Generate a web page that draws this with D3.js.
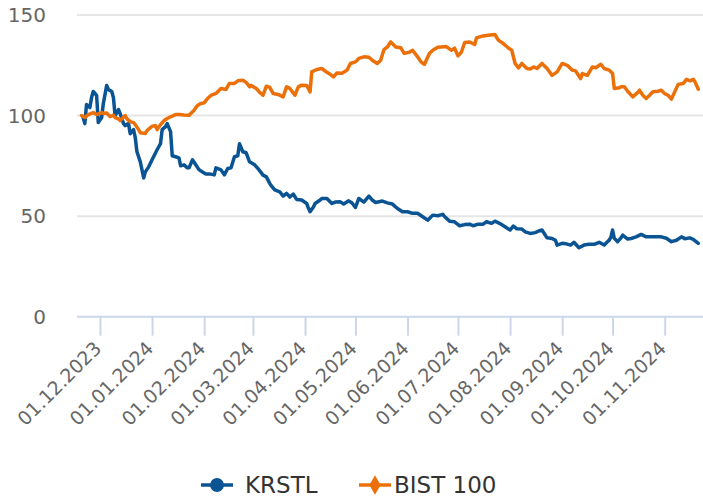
<!DOCTYPE html>
<html>
<head>
<meta charset="utf-8">
<script src="https://cdn.jsdelivr.net/npm/d3@7"></script>
<style>
body { margin: 0; background: #fff; }
svg { display: block; font-family: "DejaVu Sans", sans-serif; }
</style>
</head>
<body>
<div id="chart"></div>
<script>
// series names + colours
var seriesNames = ["KRSTL", "BIST 100"];
var seriesColors = ["#0a5494", "#ec7009"];

// KRSTL, rebased to 100
var krstlDates = ["2023-11-21","2023-11-22","2023-11-23","2023-11-25","2023-11-26","2023-11-27","2023-11-29","2023-11-30",
	"2023-12-02","2023-12-03","2023-12-05","2023-12-06","2023-12-08","2023-12-09","2023-12-10","2023-12-12","2023-12-13",
	"2023-12-15","2023-12-16","2023-12-18","2023-12-19","2023-12-21","2023-12-22","2023-12-23","2023-12-25","2023-12-27",
	"2023-12-28","2023-12-30","2024-01-01","2024-01-04","2024-01-06","2024-01-07","2024-01-09","2024-01-10","2024-01-12",
	"2024-01-13","2024-01-15","2024-01-17","2024-01-18","2024-01-20","2024-01-22","2024-01-23","2024-01-25","2024-01-27",
	"2024-01-29","2024-01-31","2024-02-02","2024-02-04","2024-02-07","2024-02-08","2024-02-11","2024-02-13","2024-02-15",
	"2024-02-17","2024-02-19","2024-02-21","2024-02-22","2024-02-24","2024-02-26","2024-02-28","2024-03-02","2024-03-04",
	"2024-03-06","2024-03-07","2024-03-09","2024-03-11","2024-03-12","2024-03-14","2024-03-17","2024-03-19","2024-03-21",
	"2024-03-23","2024-03-25","2024-03-27","2024-03-30","2024-04-02","2024-04-03","2024-04-04","2024-04-06","2024-04-07",
	"2024-04-10","2024-04-11","2024-04-14","2024-04-17","2024-04-19","2024-04-22","2024-04-24","2024-04-27","2024-04-29",
	"2024-05-01","2024-05-03","2024-05-06","2024-05-09","2024-05-11","2024-05-13","2024-05-17","2024-05-20","2024-05-23",
	"2024-05-26","2024-05-29","2024-06-01","2024-06-04","2024-06-07","2024-06-10","2024-06-13","2024-06-16","2024-06-19",
	"2024-06-22","2024-06-23","2024-06-26","2024-06-29","2024-07-02","2024-07-05","2024-07-08","2024-07-10","2024-07-13",
	"2024-07-16","2024-07-18","2024-07-21","2024-07-23","2024-07-26","2024-07-29","2024-08-01","2024-08-03","2024-08-05",
	"2024-08-08","2024-08-10","2024-08-13","2024-08-16","2024-08-18","2024-08-20","2024-08-23","2024-08-26","2024-08-28",
	"2024-08-29","2024-09-01","2024-09-03","2024-09-06","2024-09-08","2024-09-11","2024-09-14","2024-09-17","2024-09-20",
	"2024-09-23","2024-09-26","2024-09-29","2024-09-30","2024-10-01","2024-10-02","2024-10-04","2024-10-06","2024-10-07",
	"2024-10-10","2024-10-12","2024-10-15","2024-10-18","2024-10-21","2024-10-24","2024-10-27","2024-10-30","2024-11-02",
	"2024-11-05","2024-11-08","2024-11-11","2024-11-13","2024-11-16","2024-11-18","2024-11-21"];
var krstlValues = [99,96,105.5,104,109,112,110,96.5,
	99,106,115,113,112,109,100,103,101,
	96,95,96,91,93,89,82,77,69,
	72,74.5,78,83,86,93,94.5,96,92,
	80,79.5,79,75,75.5,74,74,78,75.5,
	73,72,71,71,70.5,74,73,70.5,73.7,
	74,79.5,80,86,82,81.5,77,75.5,73.7,
	71.5,70.4,69.5,66.3,65,63,62,60,61.3,
	59.5,61,58.3,58,56.3,54,52.2,54.5,56.3,
	58,58.8,58.8,56.3,57,57.1,56,57.6,56.5,
	54.3,58.8,57,60,58,56.8,57.5,56.6,56,
	53.8,52.2,52.2,51.4,51.4,49.7,48,50.5,50.2,
	50.9,49.8,47.5,47.2,45.2,45.8,46,45.2,46,
	46,47.2,46.4,47.5,46.3,44.7,43.1,45.1,43.7,
	43.6,42.2,41.4,41.8,42.6,43.1,39.2,38.9,38,
	35.6,36.5,36.3,35.6,37,34.3,35.6,36,36,
	37,35.6,38.1,39.5,43.1,39,37.3,39.2,40.6,
	38.6,38.9,39.7,40.9,39.7,39.7,39.7,39.7,39,
	37.3,38,39.7,38.8,39.2,38.5,36.5];

// BIST 100, rebased to 100
var bistDates = ["2023-11-20","2023-11-22","2023-11-24","2023-11-27","2023-11-29","2023-12-02","2023-12-03","2023-12-05",
	"2023-12-07","2023-12-09","2023-12-10","2023-12-12","2023-12-13","2023-12-16","2023-12-17","2023-12-19","2023-12-21",
	"2023-12-22","2023-12-24","2023-12-25","2023-12-28","2023-12-29","2024-01-01","2024-01-03","2024-01-04","2024-01-06",
	"2024-01-08","2024-01-10","2024-01-12","2024-01-15","2024-01-17","2024-01-20","2024-01-23","2024-01-26","2024-01-28",
	"2024-01-30","2024-02-01","2024-02-03","2024-02-05","2024-02-08","2024-02-11","2024-02-14","2024-02-16","2024-02-19",
	"2024-02-21","2024-02-24","2024-02-26","2024-02-28","2024-02-29","2024-03-03","2024-03-05","2024-03-07","2024-03-09",
	"2024-03-11","2024-03-13","2024-03-16","2024-03-19","2024-03-21","2024-03-23","2024-03-26","2024-03-28","2024-03-30",
	"2024-04-02","2024-04-04","2024-04-05","2024-04-08","2024-04-11","2024-04-14","2024-04-16","2024-04-18","2024-04-20",
	"2024-04-23","2024-04-26","2024-04-28","2024-05-01","2024-05-03","2024-05-06","2024-05-09","2024-05-11","2024-05-14",
	"2024-05-16","2024-05-18","2024-05-20","2024-05-22","2024-05-25","2024-05-28","2024-05-30","2024-06-02","2024-06-04",
	"2024-06-07","2024-06-09","2024-06-11","2024-06-14","2024-06-16","2024-06-19","2024-06-21","2024-06-24","2024-06-27",
	"2024-06-29","2024-07-01","2024-07-03","2024-07-05","2024-07-08","2024-07-11","2024-07-12","2024-07-15","2024-07-19",
	"2024-07-23","2024-07-25","2024-07-28","2024-07-31","2024-08-02","2024-08-04","2024-08-06","2024-08-08","2024-08-11",
	"2024-08-13","2024-08-15","2024-08-17","2024-08-20","2024-08-23","2024-08-26","2024-08-29","2024-09-01","2024-09-04",
	"2024-09-07","2024-09-09","2024-09-12","2024-09-13","2024-09-16","2024-09-19","2024-09-21","2024-09-24","2024-09-26",
	"2024-09-29","2024-10-01","2024-10-02","2024-10-05","2024-10-06","2024-10-08","2024-10-10","2024-10-13","2024-10-16",
	"2024-10-17","2024-10-19","2024-10-21","2024-10-23","2024-10-25","2024-10-28","2024-10-30","2024-11-01","2024-11-03",
	"2024-11-05","2024-11-07","2024-11-09","2024-11-12","2024-11-14","2024-11-16","2024-11-18","2024-11-19","2024-11-21"];
var bistValues = [100,99,100.5,101.5,100.5,101.5,101,101.3,
	99.5,100.2,99,98.3,97.5,100,98.5,97,96.5,
	95.5,93,91.5,91.1,92.5,94.7,95,93,95.5,
	97.4,98.5,99.4,100.5,100.5,100.3,100.2,102.7,105,
	106,106.3,108.5,110,111,113.5,113,116,116,
	117.3,117.6,116.5,114.3,115,113.5,111.5,110.1,114.6,
	114,111,110.5,109.3,114.3,113.5,110.1,114.3,115.1,
	115,111.8,121.7,122.9,123.4,121.5,120.5,119.2,121.2,
	121,122.6,125.9,126.7,128.4,129.2,129,127.5,125.9,
	127.5,132.8,134.1,136.6,134.1,133.7,130.9,131.5,132.5,
	129.2,126.7,125.4,130.9,132.5,134,134.1,134.3,132.5,
	133.5,129.7,131.5,136.3,136.6,135.3,138.6,139.4,139.9,
	140.3,137.5,135.8,133.6,132.5,125.9,123.7,125.9,123.4,
	123.2,124.2,123.4,125.9,123.4,120,121.7,125.9,125,
	122.6,122.2,118.4,120.9,120,124.2,123.8,125.5,123.4,
	122.6,120.9,113.5,113.8,114.3,114.3,112.1,109.3,111.5,
	112.6,110.1,108.5,110.1,111.8,112.1,112.6,110.9,110.1,
	108.2,111.8,115.5,115.9,118,117.3,118,116.8,113.1];

var yTicks = [0, 50, 100, 150];
var xTickDates = ["2023-12-01","2024-01-01","2024-02-01","2024-03-01","2024-04-01","2024-05-01",
	"2024-06-01","2024-07-01","2024-08-01","2024-09-01","2024-10-01","2024-11-01"];

var width = 703, height = 499;
var parse = d3.utcParse("%Y-%m-%d");
var fmt = d3.utcFormat("%d.%m.%Y");

var series = [
	{ name: seriesNames[0], color: seriesColors[0], values: krstlDates.map(function(d, i) { return { date: parse(d), value: krstlValues[i] }; }) },
	{ name: seriesNames[1], color: seriesColors[1], values: bistDates.map(function(d, i) { return { date: parse(d), value: bistValues[i] }; }) }
];

var x = d3.scaleUtc()
	.domain([new Date(Date.UTC(2023, 10, 17, 8)), new Date(Date.UTC(2024, 10, 23, 19))])
	.range([77, 703]);
var y = d3.scaleLinear()
	.domain([0, 150])
	.range([316.7, 15]);

var svg = d3.select("#chart").append("svg")
	.attr("width", width)
	.attr("height", height);

// horizontal grid
svg.append("g")
	.selectAll("line")
	.data(yTicks.filter(function(d) { return d > 0; }))
	.enter().append("line")
	.attr("x1", x.range()[0])
	.attr("x2", x.range()[1])
	.attr("y1", function(d) { return y(d); })
	.attr("y2", function(d) { return y(d); })
	.style("stroke", "#e6e6e6")
	.style("stroke-width", 2);

// y labels
svg.append("g")
	.selectAll("text")
	.data(yTicks)
	.enter().append("text")
	.attr("x", 46)
	.attr("y", function(d) { return y(d) + 7; })
	.attr("text-anchor", "end")
	.style("font-size", "20px")
	.style("fill", "#666666")
	.text(function(d) { return d; });

// x axis
var xAxis = d3.axisBottom(x)
	.tickValues(xTickDates.map(parse))
	.tickSize(19)
	.tickFormat(fmt);

var gx = svg.append("g")
	.attr("transform", "translate(0," + y(0) + ")")
	.call(xAxis);
gx.select(".domain").attr("d", "M" + x.range()[0] + ",0H" + x.range()[1])
	.style("stroke", "#ccd6eb").style("stroke-width", 2);
gx.selectAll(".tick line").style("stroke", "#ccd6eb").style("stroke-width", 2);
gx.selectAll(".tick text")
	.attr("y", 0).attr("dy", 0)
	.attr("transform", "translate(2,33) rotate(-45)")
	.attr("text-anchor", "end")
	.style("font-family", "DejaVu Sans, sans-serif")
	.style("font-size", "19px")
	.style("fill", "#666666");

// lines
var line = d3.line()
	.x(function(d) { return x(d.date); })
	.y(function(d) { return y(d.value); });

svg.append("g")
	.selectAll("path")
	.data(series)
	.enter().append("path")
	.attr("d", function(d) { return line(d.values); })
	.style("fill", "none")
	.style("stroke", function(d) { return d.color; })
	.style("stroke-width", 3.5)
	.style("stroke-linejoin", "round")
	.style("stroke-linecap", "round");

// legend
var legendX = [201, 359];
var legend = svg.append("g")
	.selectAll("g")
	.data(series)
	.enter().append("g")
	.attr("transform", function(d, i) { return "translate(" + legendX[i] + ",485)"; });
legend.append("line")
	.attr("x1", 0).attr("x2", 32)
	.style("stroke", function(d) { return d.color; })
	.style("stroke-width", 3.5);
legend.append("path")
	.attr("transform", "translate(16,0)")
	.attr("d", function(d, i) {
		return d3.symbol().type(i == 0 ? d3.symbolCircle : d3.symbolDiamond).size(i == 0 ? 150 : 110)();
	})
	.style("fill", function(d) { return d.color; });
legend.append("text")
	.attr("x", function(d, i) { return i == 0 ? 44 : 35; })
	.attr("y", 8)
	.style("font-size", "23px")
	.style("fill", "#333333")
	.text(function(d) { return d.name; });
</script>
</body>
</html>
